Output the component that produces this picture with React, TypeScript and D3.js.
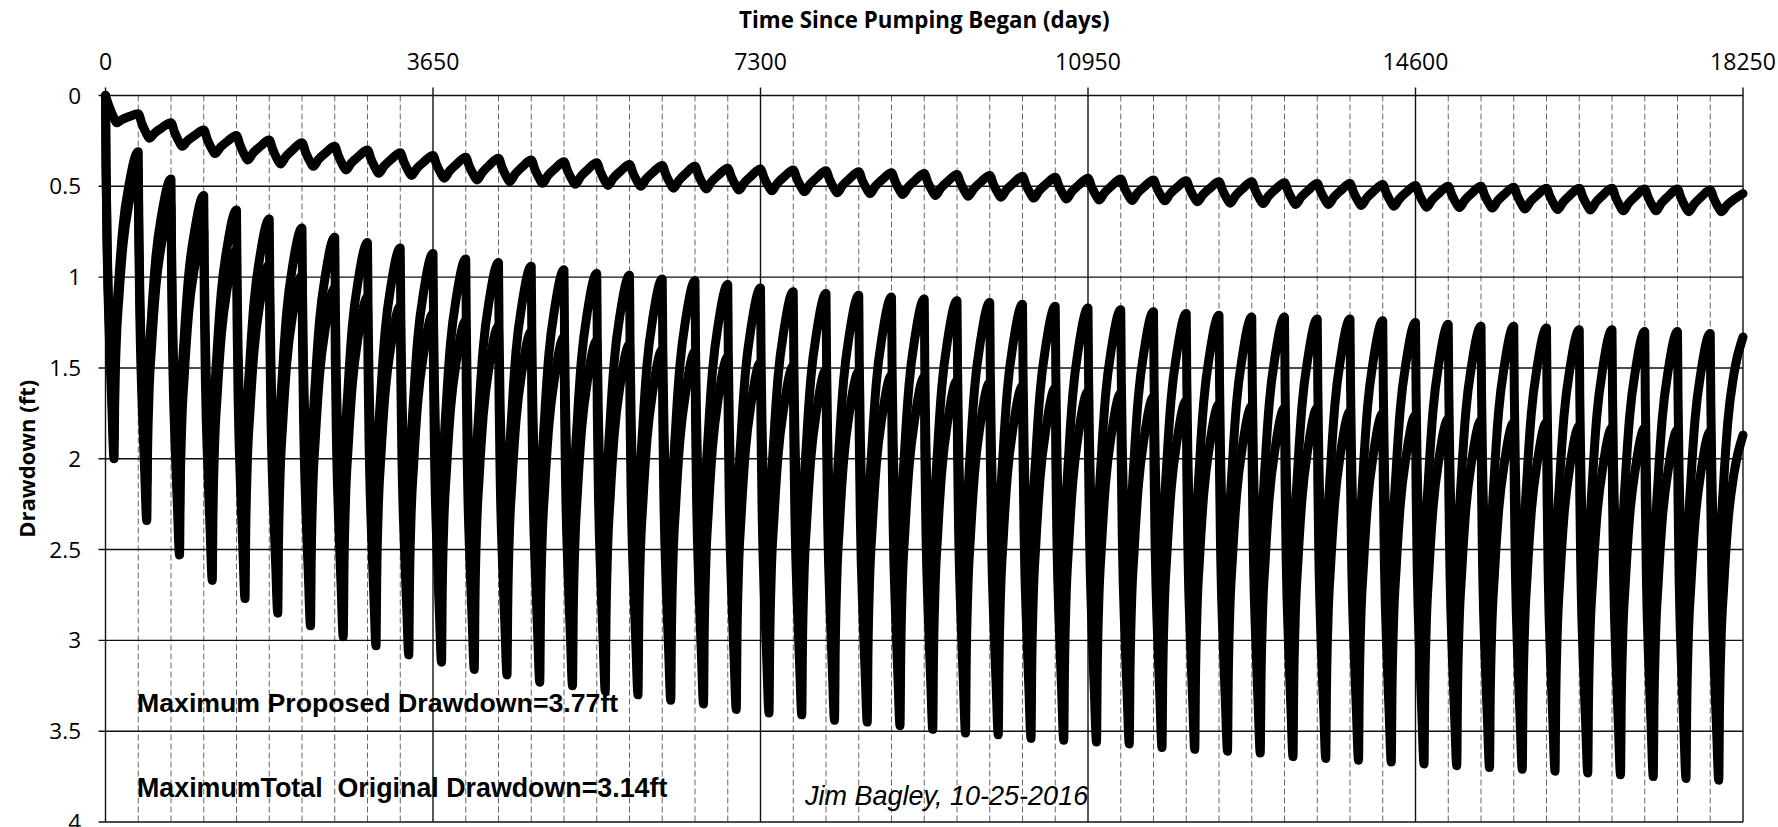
import React from 'react';
import * as d3 from 'd3';

// x axis (days) and y axis (drawdown, ft) ticks
const xTicks = [0, 3650, 7300, 10950, 14600, 18250];
const yTicks = [0, 0.5, 1, 1.5, 2, 2.5, 3, 3.5, 4];
const yearDays = 365;

// original total drawdown: value at each year start (recovered peak), yr 0..50
const originalPeaks = [0, 0.31, 0.46, 0.55, 0.63, 0.68, 0.73, 0.78, 0.81, 0.84, 0.87, 0.9, 0.92, 0.94, 0.96, 0.98, 0.99,
  1.01, 1.02, 1.04, 1.06, 1.08, 1.09, 1.1, 1.11, 1.12, 1.13, 1.14, 1.15, 1.16, 1.17, 1.18, 1.19, 1.2, 1.21, 1.22, 1.22,
  1.23, 1.23, 1.24, 1.25, 1.26, 1.27, 1.27, 1.28, 1.29, 1.29, 1.3, 1.3, 1.31, 1.33];
// original total drawdown: deepest value of each pumping season, yr 0..49
const originalTroughs = [1.89, 2.14, 2.28, 2.38, 2.45, 2.5, 2.56, 2.6, 2.63, 2.67, 2.69, 2.72, 2.75, 2.78, 2.79, 2.81,
  2.83, 2.85, 2.87, 2.89, 2.9, 2.91, 2.93, 2.94, 2.95, 2.97, 2.98, 2.99, 3.0, 3.01, 3.01, 3.02, 3.04, 3.04, 3.05, 3.05,
  3.07, 3.08, 3.08, 3.09, 3.09, 3.1, 3.11, 3.11, 3.12, 3.13, 3.13, 3.14, 3.14, 3.14];

// proposed drawdown
const proposedPeaks = [0, 0.41, 0.61, 0.74, 0.85, 0.93, 0.99, 1.06, 1.11, 1.16, 1.2, 1.24, 1.27, 1.3, 1.33, 1.35, 1.37,
  1.4, 1.41, 1.44, 1.47, 1.49, 1.51, 1.52, 1.54, 1.55, 1.57, 1.58, 1.6, 1.61, 1.63, 1.64, 1.66, 1.68, 1.7, 1.71, 1.72,
  1.72, 1.74, 1.75, 1.76, 1.78, 1.79, 1.8, 1.8, 1.82, 1.83, 1.83, 1.84, 1.85, 1.87];
const proposedTroughs = [2.0, 2.34, 2.53, 2.67, 2.77, 2.85, 2.92, 2.98, 3.03, 3.08, 3.12, 3.16, 3.19, 3.23, 3.25, 3.28,
  3.3, 3.33, 3.35, 3.38, 3.4, 3.41, 3.44, 3.45, 3.47, 3.49, 3.51, 3.52, 3.54, 3.55, 3.56, 3.57, 3.59, 3.6, 3.61, 3.62,
  3.64, 3.65, 3.66, 3.67, 3.68, 3.69, 3.7, 3.71, 3.72, 3.73, 3.74, 3.75, 3.76, 3.77];

// added drawdown (small curve at top)
const addedPeaks = [0, 0.1, 0.15, 0.19, 0.22, 0.245, 0.26, 0.28, 0.3, 0.315, 0.33, 0.34, 0.345, 0.355, 0.365, 0.37, 0.38,
  0.385, 0.39, 0.4, 0.405, 0.41, 0.415, 0.42, 0.425, 0.43, 0.435, 0.44, 0.445, 0.45, 0.455, 0.46, 0.465, 0.47, 0.475,
  0.475, 0.48, 0.485, 0.485, 0.49, 0.495, 0.5, 0.5, 0.505, 0.51, 0.51, 0.51, 0.515, 0.515, 0.52, 0.54];
const addedTroughs = [0.15, 0.235, 0.28, 0.32, 0.355, 0.377, 0.39, 0.41, 0.428, 0.44, 0.456, 0.465, 0.474, 0.483, 0.489,
  0.495, 0.5, 0.51, 0.515, 0.52, 0.525, 0.53, 0.535, 0.54, 0.545, 0.55, 0.555, 0.56, 0.565, 0.57, 0.575, 0.578, 0.58,
  0.585, 0.593, 0.595, 0.6, 0.6, 0.605, 0.61, 0.615, 0.617, 0.62, 0.625, 0.628, 0.63, 0.635, 0.635, 0.64, 0.64];

// shape of one season (days, fraction of the way to the trough / back to the peak)
const wellPump = { days: [0, 6, 20, 45, 70, 95], frac: [0, 0.2, 0.45, 0.68, 0.85, 1] };
const wellRecovery = { days: [0, 8, 25, 55, 100, 170, 270], frac: [0, 0.2, 0.4, 0.56, 0.74, 0.89, 1] };
const addedPump = { days: [0, 40, 90, 125], frac: [0, 0.4, 0.8, 1] };
const addedRecovery = { days: [0, 60, 140, 240], frac: [0, 0.35, 0.68, 1] };

const W = 1778;
const H = 827;
const margin = { top: 95.5, right: 35, bottom: 5, left: 105.5 };

type Pt = [number, number];

function seasons(peaks: number[], troughs: number[], pump: any, rec: any): Pt[] {
  const pts: Pt[] = [];
  const troughDay = pump.days[pump.days.length - 1];
  troughs.forEach((t, i) => {
    const start = i * yearDays;
    const p0 = peaks[i];
    const p1 = peaks[i + 1];
    pump.days.forEach((d: number, k: number) => {
      if (k === 0 && i > 0) return;
      pts.push([start + d, p0 + (t - p0) * pump.frac[k]]);
    });
    rec.days.forEach((d: number, k: number) => {
      if (k === 0) return;
      pts.push([start + troughDay + d, t - (t - p1) * rec.frac[k]]);
    });
  });
  return pts;
}

export default function App() {
  const x = d3.scaleLinear().domain([0, 18250]).range([margin.left, W - margin.right]);
  const y = d3.scaleLinear().domain([0, 4]).range([margin.top, H - margin.bottom]);

  const line = d3.line<Pt>()
    .x(d => x(d[0]))
    .y(d => y(d[1]))
    .curve(d3.curveMonotoneX);

  const series = [
    seasons(proposedPeaks, proposedTroughs, wellPump, wellRecovery),
    seasons(originalPeaks, originalTroughs, wellPump, wellRecovery),
    seasons(addedPeaks, addedTroughs, addedPump, addedRecovery),
  ];

  const years = d3.range(1, 50).filter(i => i % 10 !== 0);
  const x0 = x(0);
  const x1 = x(18250);
  const yTop = y(0);
  const yBot = y(4);

  return (
    <svg width={W} height={H} style={{ position: 'absolute', left: 0, top: 0, background: '#fff' }}>
      <rect x={0} y={0} width={W} height={H} fill="#fff" />
      {/* minor year lines */}
      {years.map(i => (
        <line key={'m' + i} x1={x(i * yearDays)} x2={x(i * yearDays)} y1={yTop} y2={yBot}
          stroke="#666" strokeWidth={1} strokeDasharray="6 3" />
      ))}
      {/* horizontal grid */}
      {yTicks.map(v => (
        <line key={'h' + v} x1={x0 - 7} x2={x1} y1={y(v)} y2={y(v)} stroke="#111" strokeWidth={1.4} />
      ))}
      {/* major vertical grid */}
      {xTicks.map(v => (
        <line key={'v' + v} x1={x(v)} x2={x(v)} y1={yTop - 8} y2={yBot} stroke="#111" strokeWidth={1.4} />
      ))}

      {series.map((s, i) => (
        <path key={'s' + i} d={line(s) || ''} fill="none" stroke="#000" strokeWidth={9}
          strokeLinejoin="round" strokeLinecap="round" />
      ))}

      {/* axes text */}
      <g fontFamily="'Open Sans', sans-serif" fill="#000">
        <text x={(x0 + x1) / 2} y={28} textAnchor="middle" fontSize={22.3} fontWeight="bold">
          Time Since Pumping Began (days)
        </text>
        {xTicks.map(v => (
          <text key={'xt' + v} x={x(v)} y={70} textAnchor="middle" fontSize={23}>{v}</text>
        ))}
        {yTicks.map(v => (
          <text key={'yt' + v} x={81} y={y(v)} dy="0.36em" textAnchor="end" fontSize={22.5}>{v}</text>
        ))}
        <text transform={`translate(27,${(yTop + yBot) / 2}) rotate(-90)`} textAnchor="middle" dy="0.35em"
          fontSize={22} fontWeight="bold">Drawdown (ft)</text>
      </g>

      <g fontFamily="'Liberation Sans', Arial, sans-serif" fill="#000">
        <text x={137} y={712} fontSize={26.7} fontWeight="bold">Maximum Proposed Drawdown=3.77ft</text>
        <text x={137} y={797} fontSize={26.8} fontWeight="bold" style={{ whiteSpace: 'pre' }}>
          {'MaximumTotal  Original Drawdown=3.14ft'}
        </text>
        <text x={805} y={805} fontSize={27} fontStyle="italic">Jim Bagley, 10-25-2016</text>
      </g>
    </svg>
  );
}
